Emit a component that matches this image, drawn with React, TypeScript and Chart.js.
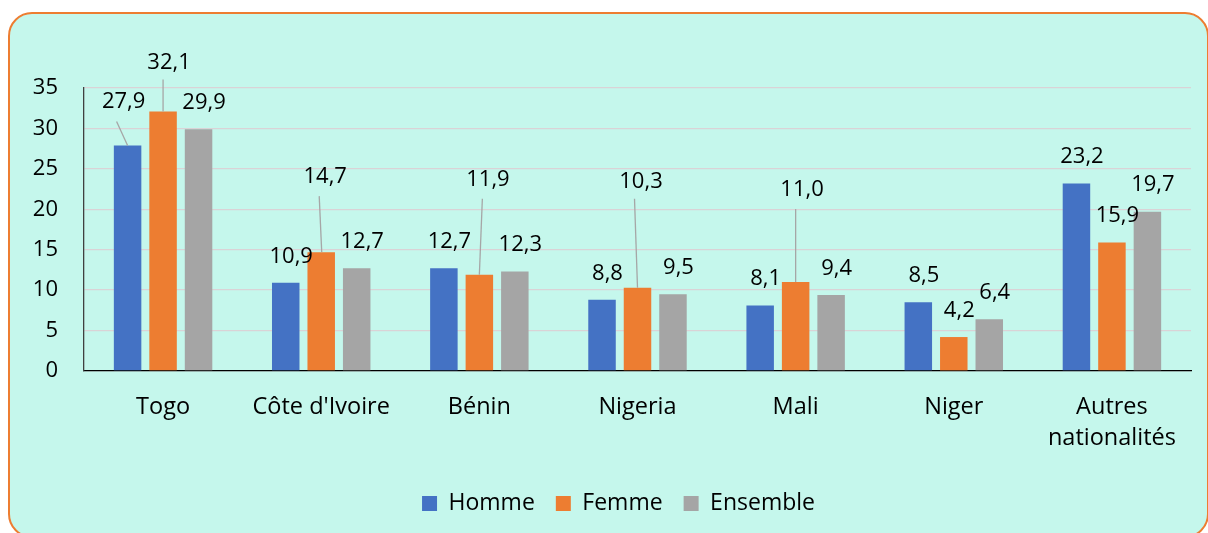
import React, { useEffect, useRef } from 'react';
import { Chart, registerables } from 'chart.js';

Chart.register(...registerables);

// ---- Data ----
const categories: (string | string[])[] = ['Togo', "Côte d'Ivoire", 'Bénin', 'Nigeria', 'Mali', 'Niger', ['Autres', 'nationalités']];
const seriesNames = ['Homme', 'Femme', 'Ensemble'];
const homme = [27.9, 10.9, 12.7, 8.8, 8.1, 8.5, 23.2];
const femme = [32.1, 14.7, 11.9, 10.3, 11.0, 4.2, 15.9];
const ensemble = [29.9, 12.7, 12.3, 9.5, 9.4, 6.4, 19.7];
const yMax = 35;
const yStep = 5;

// ---- Styles ----
const COLORS = ['#4472C4', '#ED7D31', '#A5A5A5'];
const FONT = '"Open Sans", Lato, sans-serif';
const TEXT = '#000000';

// label placement (pixel offsets from bar top-centre) & leader lines
type LabelStyle = { dx: number; dy: number; leader?: { x0: number; y0: number; x1: number } };
const DEFAULT_LABEL: LabelStyle = { dx: 5.5, dy: -26.5 };
const LABEL_OVERRIDES: Record<string, LabelStyle> = {
  '0-0': { dx: -4, dy: -44, leader: { x0: -11, y0: 20, x1: 0 } },
  '1-0': { dx: 6, dy: -49, leader: { x0: 0, y0: 17, x1: 0 } },
  '1-1': { dx: 4, dy: -75, leader: { x0: -2, y0: 19, x1: 0.5 } },
  '1-2': { dx: 8.6, dy: -95, leader: { x0: 3, y0: 19, x1: 0 } },
  '1-3': { dx: 3.5, dy: -106, leader: { x0: -3, y0: 17, x1: 0 } },
  '1-4': { dx: 6.4, dy: -92, leader: { x0: 0, y0: 19, x1: 0 } },
};

const labelPlugin = {
  id: 'valueLabels',
  afterLayout(chart: any) {
    // centre the legend like the original (under x = 618)
    if (chart.legend) {
      chart.legend.left = 46;
      chart.legend.right = 1191;
    }
  },
  afterDatasetsDraw(chart: any) {
    const ctx = chart.ctx as CanvasRenderingContext2D;
    ctx.save();
    chart.data.datasets.forEach((ds: any, di: number) => {
      const meta = chart.getDatasetMeta(di);
      meta.data.forEach((el: any, i: number) => {
        const v = ds.data[i] as number;
        const st = LABEL_OVERRIDES[`${di}-${i}`] || DEFAULT_LABEL;
        const lx = el.x + st.dx;
        const ly = el.y + st.dy;
        if (st.leader) {
          ctx.strokeStyle = '#A6A6A6';
          ctx.lineWidth = 1.3;
          ctx.beginPath();
          if (di === 0 && i === 0) {
            ctx.moveTo(lx + st.leader.x0 + 4, ly + st.leader.y0);
          } else {
            ctx.moveTo(el.x + st.leader.x0, ly + st.leader.y0);
          }
          ctx.lineTo(el.x + st.leader.x1, el.y);
          ctx.stroke();
        }
        ctx.fillStyle = TEXT;
        ctx.font = `22px ${FONT}`;
        ctx.textAlign = 'center';
        ctx.textBaseline = 'middle';
        ctx.fillText(v.toFixed(1).replace('.', ','), lx, ly);
      });
    });
    ctx.restore();
  },
};

export default function App() {
  const ref = useRef<HTMLCanvasElement | null>(null);

  useEffect(() => {
    if (!ref.current) return;
    const values = [homme, femme, ensemble];
    const chart = new Chart(ref.current, {
      type: 'bar',
      data: {
        labels: categories as any,
        datasets: values.map((d, k) => ({
          label: seriesNames[k],
          data: d,
          backgroundColor: COLORS[k],
          borderWidth: 0,
          categoryPercentage: 0.673,
          barPercentage: 0.775,
        })),
      },
      options: {
        responsive: false,
        animation: false,
        devicePixelRatio: 1,
        layout: { padding: { left: 10, right: 17, top: 88, bottom: 8 } },
        plugins: {
          tooltip: { enabled: false },
          legend: {
            position: 'bottom',
            align: 'center',
            labels: {
              boxWidth: 15,
              boxHeight: 15,
              padding: 21,
              color: TEXT,
              font: { family: FONT, size: 23 },
            },
          },
        },
        scales: {
          x: {
            grid: { display: false, drawTicks: false },
            border: { display: true, color: '#000000', width: 1.3 },
            ticks: {
              color: TEXT,
              font: { family: FONT, size: 23.5, lineHeight: 1.32 },
              padding: 21,
              maxRotation: 0,
              autoSkip: false,
            },
            afterFit: (s: any) => { s.height = 100; },
          },
          y: {
            min: 0,
            max: yMax,
            grid: { color: '#DAD3D6', lineWidth: 1.3, drawTicks: false },
            border: { display: true, color: '#404040', width: 1.3 },
            ticks: {
              stepSize: yStep,
              color: TEXT,
              font: { family: FONT, size: 22 },
              padding: 26,
            },
            afterFit: (s: any) => { s.width = 74; },
          },
        },
      },
      plugins: [labelPlugin],
    });
    return () => chart.destroy();
  }, []);

  return (
    <div style={{ position: 'absolute', left: 0, top: 0, width: 1208, height: 533, overflow: 'hidden', background: '#ffffff' }}>
      <div
        style={{
          position: 'absolute',
          left: 8,
          top: 12,
          width: 1201,
          height: 526,
          boxSizing: 'border-box',
          border: '2.5px solid #ED7D31',
          borderRadius: 24,
          background: '#C5F7EC',
        }}
      />
      <canvas ref={ref} width={1208} height={533} style={{ position: 'absolute', left: 0, top: 0, width: 1208, height: 533 }} />
    </div>
  );
}
